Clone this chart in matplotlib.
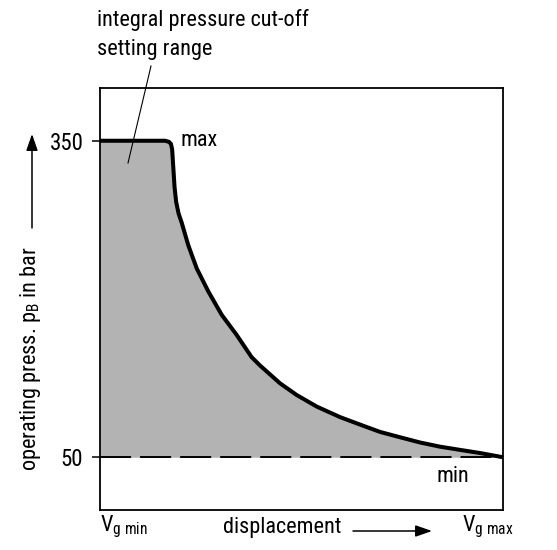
import matplotlib
matplotlib.use("Agg")
import matplotlib.pyplot as plt
from matplotlib.patches import FancyArrowPatch

FONT = 'Roboto Condensed'
plt.rcParams['font.family'] = [FONT, 'DejaVu Sans']
plt.rcParams['mathtext.fontset'] = 'custom'
plt.rcParams['mathtext.rm'] = FONT
plt.rcParams['mathtext.it'] = FONT

# Data: displacement normalised (Vg min = 0 .. Vg max = 1), pressure in bar
displacement = [0.0, 0.161, 0.171, 0.176, 0.179, 0.182, 0.185, 0.189, 0.195, 0.203, 0.219, 0.240,
                0.269, 0.302, 0.339, 0.376, 0.397, 0.447, 0.488, 0.538, 0.596,
                0.645, 0.695, 0.744, 0.794, 0.844, 0.893, 0.943, 1.0]
pressure = [350, 350, 349, 347, 342, 324, 306, 292, 281, 272, 251, 229,
            207, 185, 166, 145, 137, 120, 109, 98, 88,
            81, 74, 69, 64, 60, 57, 54, 50]
p_min = 50
ytick_vals = [50, 350]
ytick_labels = ['50', '350']

W, H = 557, 550
fig = plt.figure(figsize=(W / 100, H / 100), dpi=100)
ax = fig.add_axes([100 / W, 1 - 510 / H, 403 / W, 422 / H])
ax.set_xlim(0, 1)
ax.set_ylim(0, 400)

ax.fill_between(displacement, pressure, p_min, color='#b3b3b3', lw=0, zorder=1)
ax.axhline(p_min, color='black', lw=1.4, dashes=(16, 4.6), zorder=2)
ax.plot(displacement, pressure, color='black', lw=2.9, solid_capstyle='butt',
        solid_joinstyle='round', zorder=3, clip_on=False)

for s in ax.spines.values():
    s.set_linewidth(1.3)
ax.set_xticks([])
ax.set_yticks(ytick_vals)
ax.set_yticklabels(ytick_labels, fontsize=16.5)
ax.tick_params(axis='y', length=6, width=1.1, pad=6)

fs = 16
def ft(px, py, s, **kw):
    fig.text(px / W, 1 - py / H, s, fontsize=kw.pop('fontsize', fs), **kw)

ft(181, 140, 'max', va='center', ha='left')
ft(437, 477, 'min', va='center', ha='left')

ft(97, 20, 'integral pressure cut-off', va='center', ha='left')
ft(97, 50, 'setting range', va='center', ha='left')
fig.add_artist(plt.Line2D([151 / W, 128 / W], [1 - 66 / H, 1 - 163 / H], color='black', lw=0.8))

ft(100, 527, r'V$_{\mathregular{g\ min}}$', va='center', ha='left')
ft(462, 527, r'V$_{\mathregular{g\ max}}$', va='center', ha='left')
ft(341, 527, 'displacement', va='center', ha='right')
fig.add_artist(FancyArrowPatch((353 / W, 1 - 531 / H), (432 / W, 1 - 531 / H),
               transform=fig.transFigure, arrowstyle='-|>,head_length=10,head_width=3.5',
               mutation_scale=1, color='black', lw=1.1, shrinkA=0, shrinkB=0))

fig.text(31 / W, 1 - 471 / H, r'operating press. p$_{\mathregular{B}}$ in bar', fontsize=fs,
         rotation=90, ha='center', va='bottom')
fig.add_artist(FancyArrowPatch((32 / W, 1 - 228 / H), (32 / W, 1 - 134 / H),
               transform=fig.transFigure, arrowstyle='-|>,head_length=10,head_width=3.5',
               mutation_scale=1, color='black', lw=1.1, shrinkA=0, shrinkB=0))

fig.savefig('out.png', dpi=100)
